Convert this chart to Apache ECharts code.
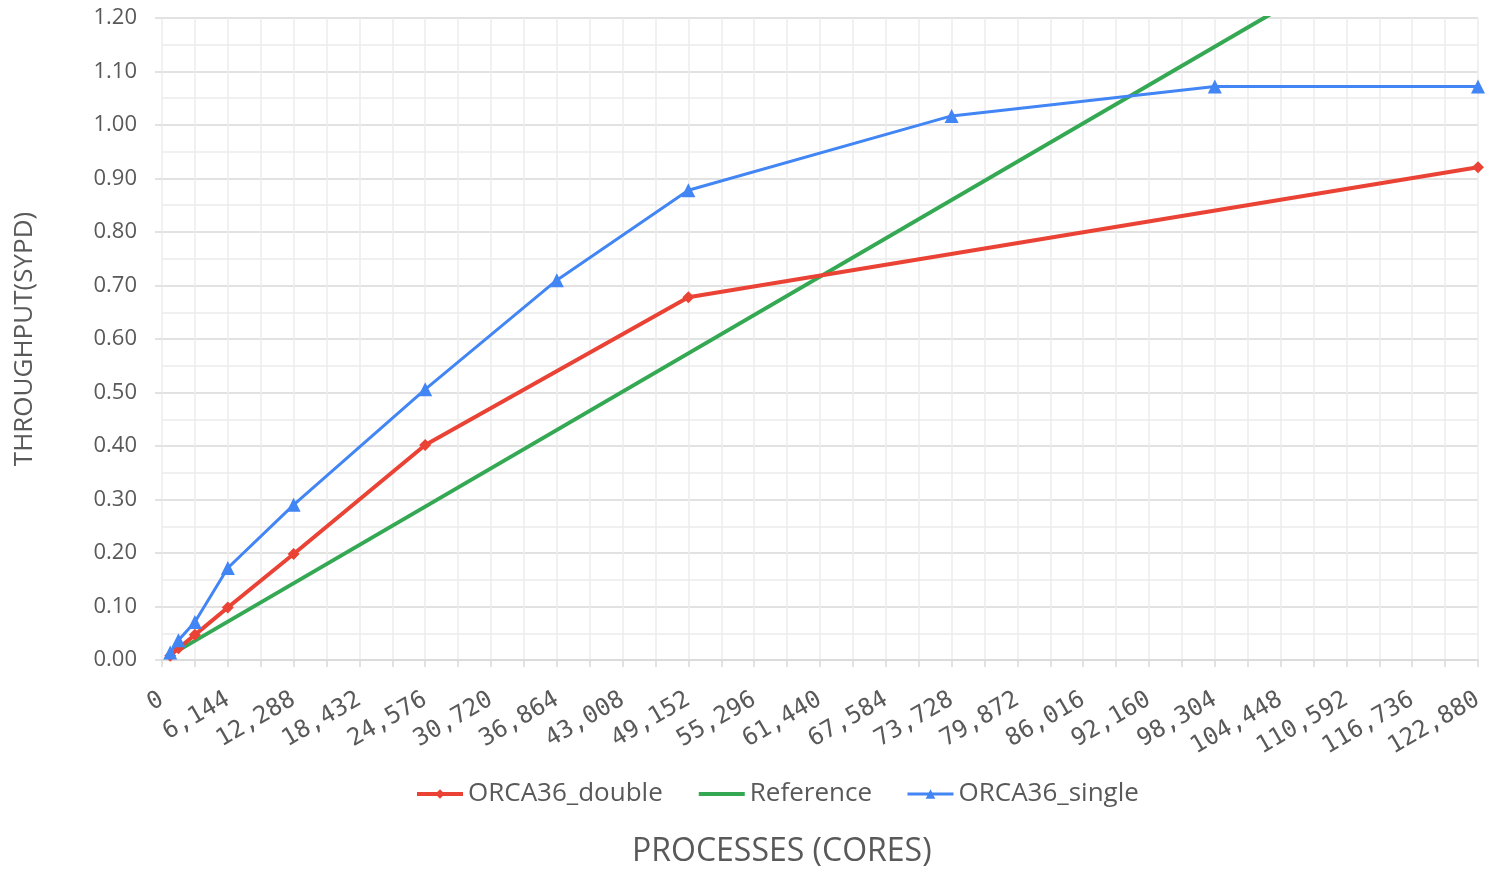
<!DOCTYPE html>
<html>
<head>
<meta charset="utf-8">
<script src="https://cdn.jsdelivr.net/npm/echarts@6/dist/echarts.min.js"></script>
<style>html,body{margin:0;padding:0;background:#fff}#c{width:1486px;height:874px}</style>
</head>
<body>
<div id="c"></div>
<script>
const doubleX = [768, 1536, 3072, 6144, 12288, 24576, 49152, 122880];
const doubleY = [0.008, 0.022, 0.047, 0.098, 0.198, 0.402, 0.678, 0.921];
const singleX = [768, 1536, 3072, 6144, 12288, 24576, 36864, 49152, 73728, 98304, 122880];
const singleY = [0.014, 0.037, 0.071, 0.172, 0.290, 0.506, 0.710, 0.878, 1.017, 1.072, 1.072];
const refX = [1536, 122880];
const refY = [0.018, 1.433];
const seriesNames = ['ORCA36_double', 'Reference', 'ORCA36_single'];

const zip = (xs, ys) => xs.map((x, i) => [x, ys[i]]);
const chart = echarts.init(document.getElementById('c'));
const txt = '#595959';
chart.setOption({
  animation: false,
  grid: {left: 162, right: 8, top: 18, bottom: 214, outerBoundsMode: 'none', containLabel: false},
  legend: {
    top: 776, left: 410, itemWidth: 46, itemHeight: 12, itemGap: 34,
    textStyle: {fontFamily: 'Open Sans', fontSize: 26, color: txt},
    data: [
      {name: seriesNames[0], lineStyle: {width: 4}},
      {name: seriesNames[1], itemStyle: {opacity: 0}, lineStyle: {width: 4}},
      {name: seriesNames[2], lineStyle: {width: 3}}
    ]
  },
  graphic: [{
    type: 'text', left: 632, top: 836,
    style: {text: 'PROCESSES (CORES)', fontFamily: 'Open Sans', fontSize: 32, fill: txt}
  }],
  xAxis: {
    type: 'value', min: 0, max: 122880, interval: 3072,
    axisLine: {lineStyle: {color: '#d9d9d9', width: 1.5}},
    axisTick: {show: true, length: 7, lineStyle: {color: '#d9d9d9', width: 1.5}},
    axisLabel: {
      rotate: 30, margin: 38, fontFamily: 'DejaVu Sans Mono', fontSize: 24, color: txt,
      formatter: v => (v % 6144 === 0) ? v.toLocaleString('en-US') : ''
    },
    splitLine: {show: true, lineStyle: {color: '#ececec', width: 1.5}}
  },
  yAxis: {
    type: 'value', min: 0, max: 1.2, interval: 0.1,
    name: 'THROUGHPUT(SYPD)', nameLocation: 'middle', nameGap: 124,
    nameTextStyle: {fontFamily: 'Open Sans', fontSize: 26, color: txt},
    axisLine: {show: false},
    axisTick: {show: true, length: 7, lineStyle: {color: '#d9d9d9', width: 1.5}},
    axisLabel: {margin: 25, fontFamily: 'Open Sans', fontSize: 22, color: txt, formatter: v => v.toFixed(2)},
    splitLine: {show: true, lineStyle: {color: '#d9d9d9', width: 1.5}},
    minorTick: {show: false, splitNumber: 2},
    minorSplitLine: {show: true, lineStyle: {color: '#ececec', width: 1.5}}
  },
  series: [
    {name: seriesNames[0], type: 'line', data: zip(doubleX, doubleY), symbol: 'diamond', symbolSize: 12,
     lineStyle: {color: '#ea4335', width: 4}, itemStyle: {color: '#ea4335'}, z: 3},
    {name: seriesNames[1], type: 'line', data: zip(refX, refY), symbol: 'none', clip: true,
     lineStyle: {color: '#34a853', width: 4}, itemStyle: {color: '#34a853'}, z: 2},
    {name: seriesNames[2], type: 'line', data: zip(singleX, singleY), symbol: 'triangle', symbolSize: 14,
     lineStyle: {color: '#4285f4', width: 3}, itemStyle: {color: '#4285f4'}, z: 4}
  ]
});
</script>
</body>
</html>
